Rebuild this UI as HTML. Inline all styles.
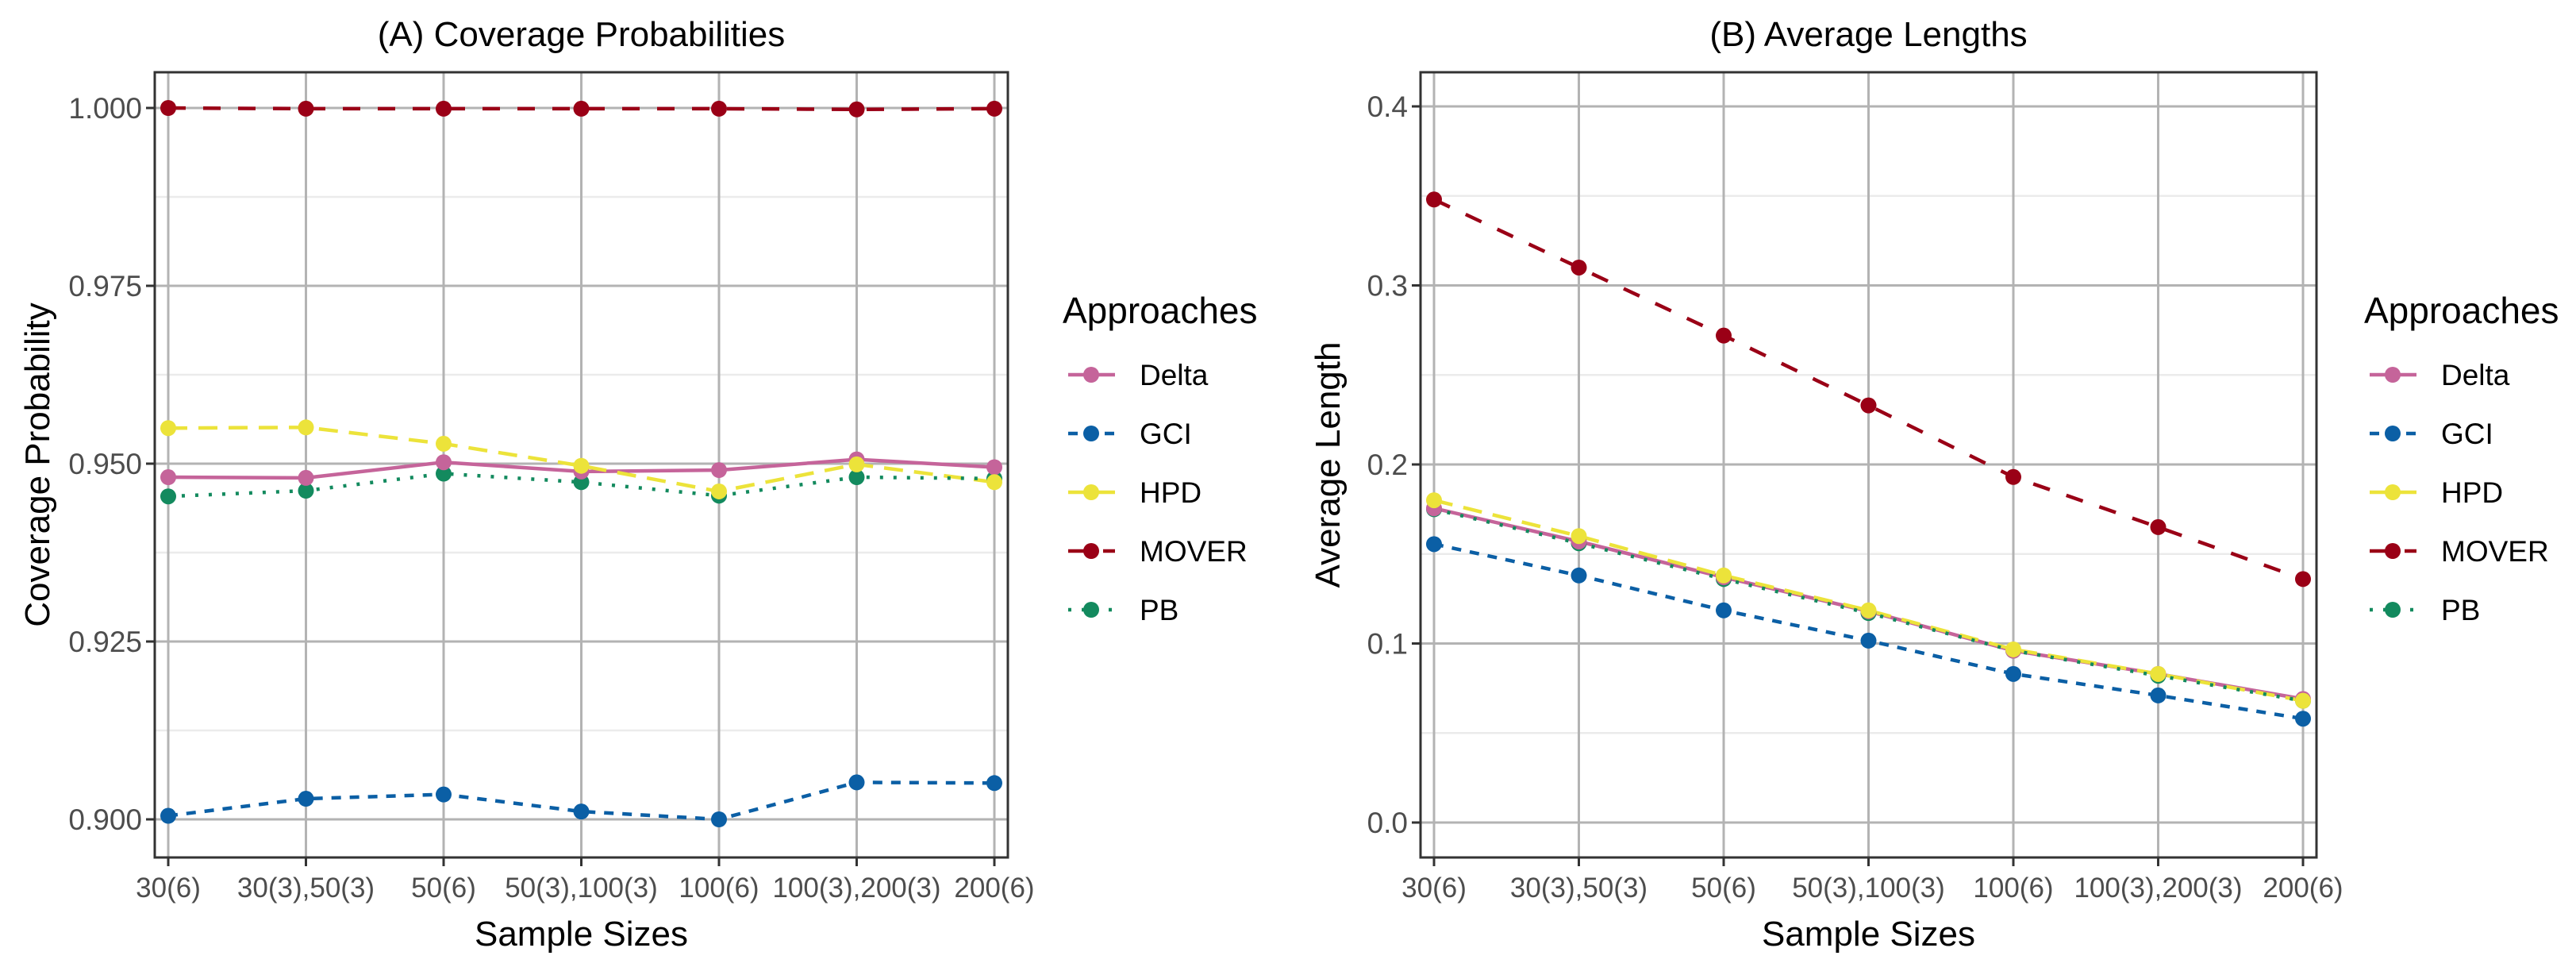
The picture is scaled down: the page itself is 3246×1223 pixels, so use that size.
<!DOCTYPE html>
<html><head><meta charset="utf-8"><style>
html,body{margin:0;padding:0;background:#fff;}
svg{display:block;font-family:"Liberation Sans",Arial,sans-serif;}
</style></head><body>
<svg id="chart" width="3246" height="1223" viewBox="0 0 3246 1223" xmlns="http://www.w3.org/2000/svg"></svg>
<script>
const categories = ["30(6)","30(3),50(3)","50(6)","50(3),100(3)","100(6)","100(3),200(3)","200(6)"];
const seriesNames = ["Delta","GCI","HPD","MOVER","PB"];
const pointOrder = ["PB","Delta","GCI","MOVER","HPD"];
const coverageDelta = [0.9481,0.9480,0.9502,0.9489,0.9491,0.9506,0.9495];
const coverageGCI   = [0.9005,0.9029,0.9035,0.9011,0.9000,0.9052,0.9051];
const coverageHPD   = [0.9550,0.9551,0.9528,0.9497,0.9461,0.9499,0.9474];
const coverageMOVER = [1.0000,0.9999,0.9999,0.9999,0.9999,0.9998,0.9999];
const coveragePB    = [0.9454,0.9462,0.9486,0.9474,0.9455,0.9481,0.9479];
const lengthDelta = [0.1755,0.157,0.137,0.118,0.096,0.083,0.069];
const lengthGCI   = [0.1555,0.138,0.1185,0.1016,0.083,0.071,0.058];
const lengthHPD   = [0.180,0.160,0.138,0.1185,0.0967,0.083,0.068];
const lengthMOVER = [0.348,0.310,0.272,0.233,0.193,0.165,0.136];
const lengthPB    = [0.175,0.156,0.136,0.117,0.096,0.082,0.068];
const coverageTicks = [0.900,0.925,0.950,0.975,1.000];
const coverageTickLabels = ["0.900","0.925","0.950","0.975","1.000"];
const lengthTicks = [0.0,0.1,0.2,0.3,0.4];
const lengthTickLabels = ["0.0","0.1","0.2","0.3","0.4"];

const NS="http://www.w3.org/2000/svg";
const svg=document.getElementById('chart');
const colors={Delta:"#c5649a",GCI:"#0b5fa5",HPD:"#ece33a",MOVER:"#9a0016",PB:"#138a5e"};
const dashes={Delta:"",GCI:"12 11",HPD:"24 14",MOVER:"22 22",PB:"4 13"};
function mk(tag,attrs,parent){const e=document.createElementNS(NS,tag);for(const k in attrs)e.setAttribute(k,attrs[k]);(parent||svg).appendChild(e);return e;}
function txt(s,attrs,parent){const e=mk('text',attrs,parent);e.textContent=s;return e;}

function panel(cfg){
  const g=mk('g',{});
  
  
  const L=cfg.left,R=cfg.right,T=91,B=1080;
  const x=i=>cfg.x0+i*(cfg.x1-cfg.x0)/(categories.length-1);
  const y=v=>cfg.yAt0+(v-cfg.v0)*(cfg.yAt1-cfg.yAt0)/(cfg.v1-cfg.v0);
  for(let i=0;i<cfg.ticks.length-1;i++){
    const m=(cfg.ticks[i]+cfg.ticks[i+1])/2;
    const ln=mk('line',{x1:L,x2:R,y1:y(m),y2:y(m),stroke:"#ebebeb","stroke-width":2.5},g);
    
    
  }
  cfg.ticks.forEach((t,i)=>{
    const ln=mk('line',{x1:L,x2:R,y1:y(t),y2:y(t),stroke:"#b3b3b3","stroke-width":3},g);
    
    
    mk('line',{x1:L-11,x2:L,y1:y(t),y2:y(t),stroke:"#333","stroke-width":3},g);
    const lb=txt(cfg.tickLabels[i],{x:L-16,y:y(t)+13,"text-anchor":"end","font-size":37,fill:"#4d4d4d"},g);
    
    
  });
  categories.forEach((c,i)=>{
    const ln=mk('line',{x1:x(i),x2:x(i),y1:T,y2:B,stroke:"#b3b3b3","stroke-width":3},g);
    
    
    mk('line',{x1:x(i),x2:x(i),y1:B,y2:B+11,stroke:"#333","stroke-width":3},g);
    const lb=txt(c,{x:x(i),y:1130,"text-anchor":"middle","font-size":35,fill:"#4d4d4d"},g);
    
    
  });
  seriesNames.forEach(s=>{
    const vals=cfg.data[s];
    const pts=vals.map((v,i)=>x(i).toFixed(1)+","+y(v).toFixed(1)).join(" ");
    const pl=mk('polyline',{points:pts,fill:"none",stroke:colors[s],"stroke-width":4.5,"stroke-dasharray":dashes[s]},g);
    
    
  });
  pointOrder.forEach(s=>{
    cfg.data[s].forEach((v,i)=>{
      const c=mk('circle',{cx:x(i),cy:y(v),r:10,fill:colors[s]},g);
      
      
    });
  });
  const br=mk('rect',{x:L,y:T,width:R-L,height:B-T,fill:"none",stroke:"#333","stroke-width":3},g);
  
  
  const ti=txt(cfg.title,{x:(L+R)/2,y:58,"text-anchor":"middle","font-size":44,fill:"#000"},g);
  
  
  const xt=txt("Sample Sizes",{x:(L+R)/2,y:1191,"text-anchor":"middle","font-size":44,fill:"#000"},g);
  
  
  const yt=txt(cfg.ytitle,{x:0,y:0,"text-anchor":"middle","font-size":44,fill:"#000",transform:`translate(${cfg.ytx},${(T+B)/2}) rotate(-90)`},g);
  
  
  const lg=mk('g',{},g);
  
  
  const lx=cfg.legendX;
  const lt=txt("Approaches",{x:lx,y:407,"font-size":46,fill:"#000"},lg);
  
  
  seriesNames.forEach((s,i)=>{
    const yy=472+i*74;
    const e=mk('g',{},lg);
    
    
    mk('line',{x1:lx+7,x2:lx+66,y1:yy,y2:yy,stroke:colors[s],"stroke-width":4.5,"stroke-dasharray":dashes[s]},e);
    mk('circle',{cx:lx+36,cy:yy,r:10,fill:colors[s]},e);
    txt(s,{x:lx+97,y:yy+13,"font-size":37,fill:"#000"},e);
  });
}

panel({name:"panel-coverage",title:"(A) Coverage Probabilities",ytitle:"Coverage Probability",
  left:195,right:1270,x0:212,x1:1253,v0:0.900,v1:1.000,yAt0:1032,yAt1:136,ytx:62,legendX:1339,
  ticks:coverageTicks,tickLabels:coverageTickLabels,
  data:{Delta:coverageDelta,GCI:coverageGCI,HPD:coverageHPD,MOVER:coverageMOVER,PB:coveragePB}});
panel({name:"panel-length",title:"(B) Average Lengths",ytitle:"Average Length",
  left:1790,right:2919,x0:1807,x1:2902,v0:0.0,v1:0.4,yAt0:1036,yAt1:134,ytx:1688,legendX:2979,
  ticks:lengthTicks,tickLabels:lengthTickLabels,
  data:{Delta:lengthDelta,GCI:lengthGCI,HPD:lengthHPD,MOVER:lengthMOVER,PB:lengthPB}});
</script>
</body></html>
